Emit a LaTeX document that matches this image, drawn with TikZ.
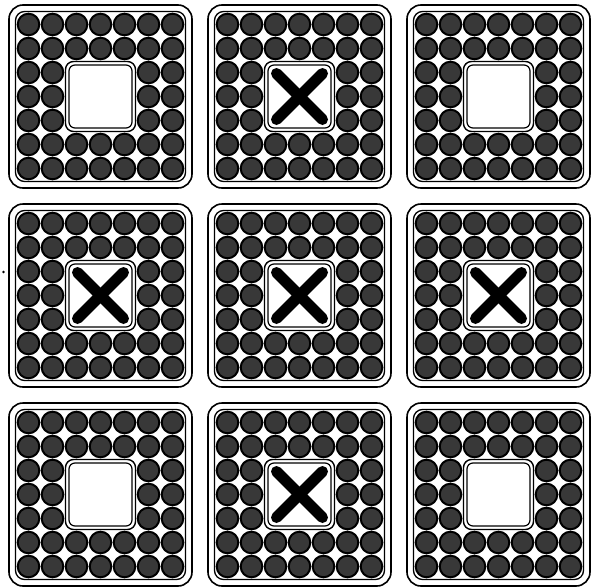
\documentclass[tikz,border=0pt]{standalone}
\begin{document}
\begin{tikzpicture}[x=1pt,y=-1pt]
\tikzset{
  tileouter/.style={draw=black, line width=1.6pt, rounded corners=14pt},
  tileinner/.style={draw=black, line width=1.3pt, rounded corners=9pt},
  cell/.style={draw=black, line width=2pt, fill=black!78},
  winout/.style={draw=black, line width=1.4pt, rounded corners=8pt, fill=white},
  winin/.style={draw=black, line width=1.2pt, rounded corners=6pt},
  cross/.style={draw=black, line width=11pt, line cap=round},
}
\useasboundingbox (0,0) rectangle (595,587);
\fill[black] (3.5,272) circle (1.4);
\foreach \col in {0,1,2}{
  \foreach \row in {0,1,2}{
    \pgfmathsetmacro\cx{100.5+199*\col}
    \pgfmathsetmacro\cy{96.5+199*\row}
    \draw[tileouter] (\cx-91.5,\cy-91.5) rectangle (\cx+91.5,\cy+91.5);
    \draw[tileinner] (\cx-85,\cy-85) rectangle (\cx+85,\cy+85);
    \foreach \i in {0,...,6}{
      \foreach \j in {0,...,6}{
        \pgfmathtruncatemacro\inside{(\i>1)&&(\i<5)&&(\j>1)&&(\j<5)}
        \ifnum\inside=0
          \draw[cell] (\cx+24*\i-72,\cy+24*\j-72) circle (10.8);
        \fi
      }
    }
    \draw[winout] (\cx-35,\cy-35) rectangle (\cx+35,\cy+35);
    \draw[winin] (\cx-31.5,\cy-31.5) rectangle (\cx+31.5,\cy+31.5);
    \pgfmathtruncatemacro\hasx{(\col==1)||(\row==1)}
    \ifnum\hasx=1
      \draw[cross] (\cx-23,\cy-23) -- (\cx+23,\cy+23);
      \draw[cross] (\cx-23,\cy+23) -- (\cx+23,\cy-23);
    \fi
  }
}
\end{tikzpicture}
\end{document}
